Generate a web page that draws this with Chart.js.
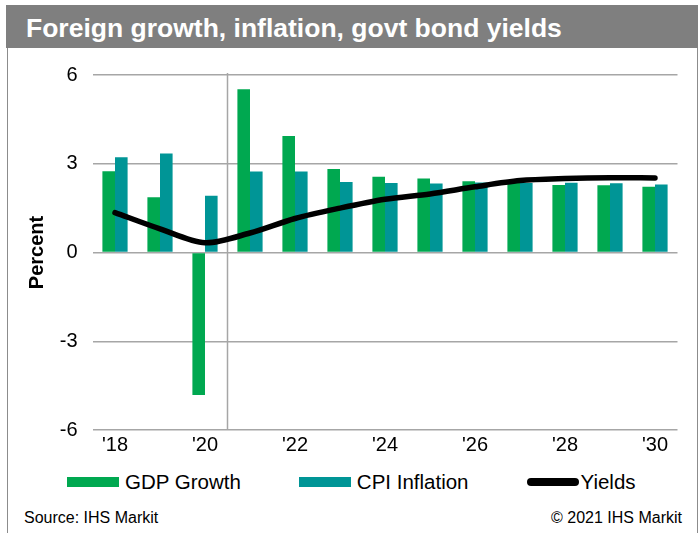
<!DOCTYPE html>
<html>
<head>
<meta charset="utf-8">
<script src="https://cdn.jsdelivr.net/npm/chart.js@4"></script>
<style>
  body{margin:0;background:#fff;font-family:'Liberation Sans',Arial,sans-serif;}
  #frame{position:absolute;left:7px;top:48px;width:689px;height:485px;border-left:1.5px solid #8c8c8c;border-right:1.5px solid #8c8c8c;}
  #title{position:absolute;left:6px;top:5px;width:692px;height:43px;background:#7f7f7f;color:#fff;font-weight:bold;font-size:26.5px;line-height:46px;padding-left:20px;box-sizing:border-box;}
  #wrap{position:absolute;left:0;top:48px;width:700px;height:420px;}
  #legend{position:absolute;left:67px;top:470px;height:24px;display:flex;align-items:center;font-size:20.5px;}
  #legend .item{display:flex;align-items:center;margin-right:58px;}
  #legend .sw{width:52px;height:10px;margin-right:6px;}
  .foot{position:absolute;top:509px;font-size:16px;color:#000;}
</style>
</head>
<body>
<div id="frame"></div>
<div id="title">Foreign growth, inflation, govt bond yields</div>
<div id="wrap"><canvas id="chart"></canvas></div>
<div id="legend"></div>
<div class="foot" style="left:24px">Source: IHS Markit</div>
<div class="foot" style="right:18px">© 2021 IHS Markit</div>
<script>
const years = ['2018','2019','2020','2021','2022','2023','2024','2025','2026','2027','2028','2029','2030'];
const gdpGrowth = [2.75, 1.87, -4.82, 5.52, 3.94, 2.82, 2.56, 2.5, 2.41, 2.35, 2.28, 2.27, 2.22];
const cpiInflation = [3.22, 3.35, 1.92, 2.74, 2.74, 2.38, 2.35, 2.33, 2.37, 2.35, 2.36, 2.34, 2.30];
const yields = [1.35, 0.8, 0.33, 0.66, 1.15, 1.5, 1.8, 1.98, 2.22, 2.43, 2.5, 2.53, 2.52];
const yTicks = [-6, -3, 0, 3, 6];

Chart.defaults.font.family = "'Liberation Sans', Arial, sans-serif";
Chart.defaults.color = '#000';

// vertical divider between '20 and '21
const dividerPlugin = {
  id: 'divider',
  beforeDatasetsDraw(chart) {
    const x = chart.scales.x;
    const area = chart.chartArea;
    const px = (x.getPixelForValue(2) + x.getPixelForValue(3)) / 2;
    const ctx = chart.ctx;
    ctx.save();
    ctx.strokeStyle = '#a6a6a6';
    ctx.lineWidth = 1.5;
    ctx.beginPath();
    ctx.moveTo(px, area.top - 2);
    ctx.lineTo(px, area.bottom);
    ctx.stroke();
    ctx.restore();
  }
};

// legend built as html so the spacing can follow the original
const htmlLegend = {
  id: 'htmlLegend',
  afterUpdate(chart) {
    const box = document.getElementById('legend');
    box.innerHTML = '';
    chart.data.datasets.forEach(ds => {
      const item = document.createElement('div');
      item.className = 'item';
      const sw = document.createElement('span');
      sw.className = 'sw';
      if (ds.type === 'line') {
        sw.style.background = ds.borderColor;
        sw.style.height = '8px';
        sw.style.borderRadius = '4px';
        sw.style.marginRight = '2px';
      } else {
        sw.style.background = ds.backgroundColor;
      }
      const txt = document.createElement('span');
      txt.textContent = ds.label;
      item.appendChild(sw);
      item.appendChild(txt);
      box.appendChild(item);
    });
  }
};

new Chart(document.getElementById('chart'), {
  data: {
    labels: years,
    datasets: [
      {type:'bar', label:'GDP Growth', data:gdpGrowth, backgroundColor:'#00a850', order:1,
        categoryPercentage:0.56, barPercentage:1.0},
      {type:'bar', label:'CPI Inflation', data:cpiInflation, backgroundColor:'#009596', order:1,
        categoryPercentage:0.56, barPercentage:1.0},
      {type:'line', label:'Yields', data:yields, borderColor:'#000', backgroundColor:'#000', borderWidth:5.5,
        tension:0.3, pointRadius:0, borderCapStyle:'round', borderJoinStyle:'round', order:0}
    ]
  },
  options: {
    responsive:true, maintainAspectRatio:false, animation:false,
    layout:{padding:{left:0, right:22.5, top:27, bottom:0}},
    plugins:{
      tooltip:{enabled:false},
      legend:{display:false}
    },
    scales:{
      x:{
        grid:{display:false, drawTicks:false}, border:{display:false},
        ticks:{font:{size:20}, padding:3, autoSkip:false, maxRotation:0,
          callback:(v, i) => i % 2 === 0 ? "'" + years[i].slice(2) : ''},
        afterFit:s => { s.height = 38; }
      },
      y:{
        min:-6, max:6,
        afterBuildTicks:s => { s.ticks = yTicks.map(v => ({value:v})); },
        grid:{color:'#a6a6a6', lineWidth:1.5, drawTicks:false}, border:{display:false},
        ticks:{font:{size:20}, padding:15},
        title:{display:true, text:'Percent', font:{size:20, weight:'bold'}, padding:{top:25, bottom:0}},
        afterFit:s => { s.width = 92.5; }
      }
    }
  },
  plugins:[dividerPlugin, htmlLegend]
});
</script>
</body>
</html>
